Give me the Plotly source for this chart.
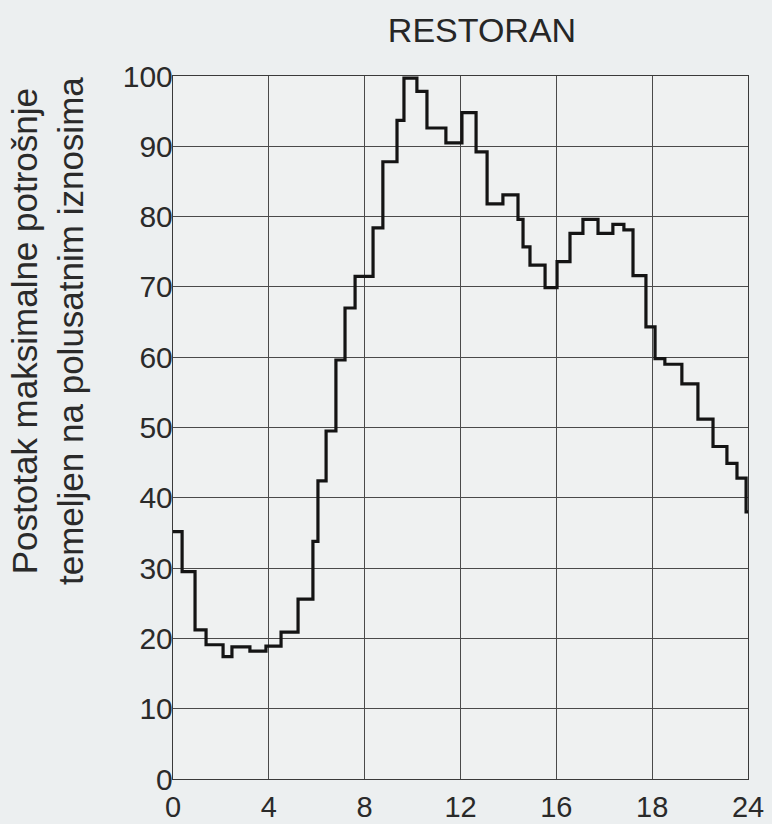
import plotly.graph_objects as go

# start of each step (hour of day) and the load in that step, % of daily maximum
step_start = [0, 0.38, 0.92, 1.38, 2.09, 2.46, 3.21, 3.88, 4.51, 5.22,
              5.84, 6.05, 6.39, 6.80, 7.18, 7.60, 8.35, 8.76, 9.35, 9.64,
              10.18, 10.60, 11.39, 12.06, 12.65, 13.11, 13.77, 14.40, 14.61, 14.90,
              15.53, 16.03, 16.57, 17.11, 17.74, 18.36, 18.82, 19.20, 19.74, 20.12,
              20.53, 21.24, 21.91, 22.54, 23.12, 23.54, 23.92, 24]
load_pct = [35.2, 29.5, 21.2, 19.1, 17.4, 18.8, 18.2, 18.9, 20.9, 25.6,
            33.8, 42.4, 49.5, 59.6, 67.0, 71.5, 78.4, 87.8, 93.7, 99.7,
            97.8, 92.6, 90.5, 94.8, 89.2, 81.8, 83.1, 79.6, 75.7, 73.1,
            69.9, 73.6, 77.6, 79.6, 77.6, 78.9, 78.1, 71.6, 64.3, 59.8,
            59.0, 56.2, 51.2, 47.3, 44.9, 42.8, 38.0, 38.0]

hour_ticks = [0, 4, 8, 12, 16, 20, 24]
hour_labels = ["0", "4", "8", "12", "16", "18", "24"]  # printed as in the source
pct_ticks = list(range(0, 101, 10))

fig = go.Figure()
fig.add_trace(go.Scatter(x=step_start, y=load_pct, mode="lines",
                         line=dict(shape="hv", color="#141414", width=3.2),
                         showlegend=False))

font = "Liberation Sans, Arial, Helvetica, sans-serif"
fig.update_layout(
    width=772, height=824,
    margin=dict(l=173, r=24, t=76, b=45),
    paper_bgcolor="#eceff0", plot_bgcolor="#eff1f1",
    font=dict(family=font, color="#2a2a2a", size=30),
    title=dict(text="RESTORAN", x=482 / 772, xanchor="center",
               y=1 - 30 / 824, yanchor="middle", font=dict(size=34, color="#262626")),
    xaxis=dict(range=[0, 24], tickvals=hour_ticks, ticktext=hour_labels,
               showgrid=True, gridcolor="#4a4a4a", gridwidth=1.2,
               showline=True, linecolor="#3a3a3a", linewidth=1.4, mirror=True,
               zeroline=False, ticks="", ticklabelstandoff=2, automargin=False,
               tickfont=dict(size=29)),
    yaxis=dict(range=[0, 100], tickvals=pct_ticks,
               showgrid=True, gridcolor="#4a4a4a", gridwidth=1.2,
               showline=True, linecolor="#3a3a3a", linewidth=1.4, mirror=True,
               zeroline=False, ticks="", ticklabelstandoff=-7, automargin=False),
    annotations=[dict(text="Postotak maksimalne potrošnje<br>temeljen na polusatnim iznosima",
                      textangle=-90, xref="paper", yref="paper",
                      x=-(173 - 47) / 575, y=(779 - 331) / 703,
                      xanchor="center", yanchor="middle", showarrow=False,
                      font=dict(size=35, color="#2a2a2a"))],
)

# drop the page's default 8px body margin so the figure fills the window
fig.write_html("out.html", config={"displayModeBar": False},
               post_script="document.body.style.margin = '0';")
